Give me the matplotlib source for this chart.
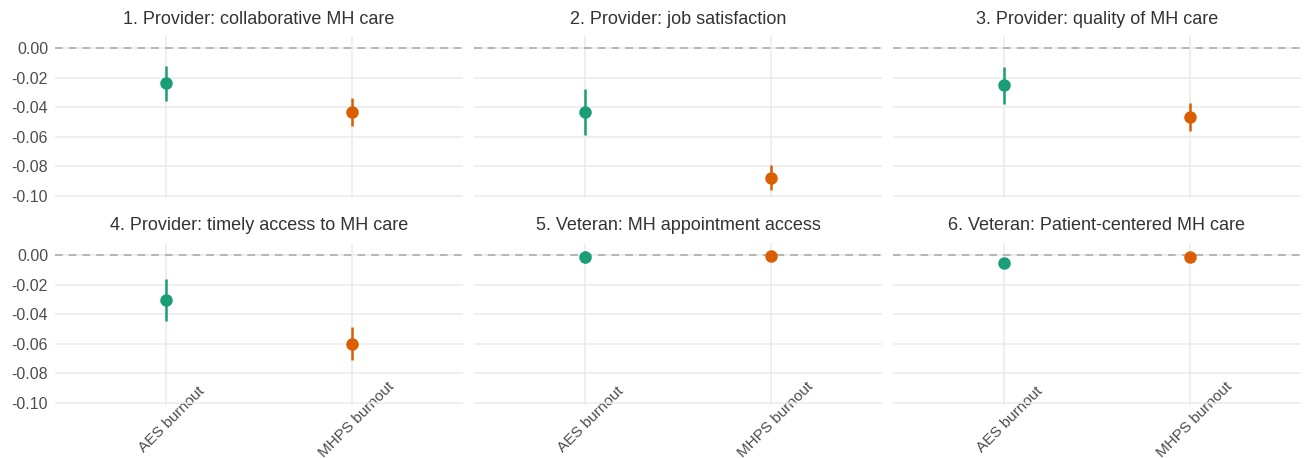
import matplotlib
matplotlib.use("Agg")
import matplotlib.pyplot as plt
import matplotlib.transforms as mtrans
import numpy as np

plt.rcParams['font.family'] = ['Liberation Sans', 'DejaVu Sans']

# === 数据 ===
titles = [
    "1. Provider: collaborative MH care",
    "2. Provider: job satisfaction",
    "3. Provider: quality of MH care",
    "4. Provider: timely access to MH care",
    "5. Veteran: MH appointment access",
    "6. Veteran: Patient-centered MH care",
]
categories = ["AES burnout", "MHPS burnout"]

aes_est = [-0.0236, -0.043, -0.025, -0.0304, -0.0010, -0.0050]
aes_lo = [-0.0360, -0.0590, -0.0378, -0.0446, -0.0050, -0.0058]
aes_hi = [-0.0120, -0.0277, -0.0126, -0.0160, 0.0030, -0.0042]

mhps_est = [-0.0430, -0.0880, -0.0468, -0.0600, -0.0007, -0.0010]
mhps_lo = [-0.0527, -0.0960, -0.0560, -0.0710, -0.0017, -0.0017]
mhps_hi = [-0.0340, -0.0790, -0.0374, -0.0487, 0.0003, -0.0003]

yticks = [0.0, -0.02, -0.04, -0.06, -0.08, -0.10]
colors = ['#1b9e77', '#d95f02']

W, H = 1311, 458
fig = plt.figure(figsize=(W / 100, H / 100), dpi=100)

# 面板位置 (像素)
lefts = [55, 474, 893]
pw = 408
rows = [(36, 197.5), (243, 404.5)]

for i, title in enumerate(titles):
    r, c = divmod(i, 3)
    top, bot = rows[r]
    ax = fig.add_axes([lefts[c] / W, 1 - bot / H, pw / W, (bot - top) / H])
    ax.set_xlim(0.4, 2.6)
    ax.set_ylim(-0.101, 0.0082)
    for s in ax.spines.values():
        s.set_visible(False)
    ax.set_yticks(yticks)
    ax.set_xticks([1, 2])
    ax.grid(True, color='#ebebeb', linewidth=1.1, zorder=0)
    ax.set_axisbelow(True)
    ax.axhline(0, color='#a6a6a6', linestyle=(0, (5, 4)), linewidth=1.1, zorder=1)

    est = [aes_est[i], mhps_est[i]]
    lo = [aes_lo[i], mhps_lo[i]]
    hi = [aes_hi[i], mhps_hi[i]]
    for j in range(2):
        ax.plot([j + 1, j + 1], [lo[j], hi[j]], color=colors[j], linewidth=1.8,
                solid_capstyle='butt', zorder=3)
        ax.plot(j + 1, est[j], 'o', color=colors[j], markersize=8, zorder=4)

    ax.tick_params(length=0, colors='#4d4d4d', labelsize=11.5)
    if c == 0:
        ax.set_yticklabels([f"{v:.2f}" for v in yticks])
        ax.tick_params(axis='y', pad=5)
    else:
        ax.set_yticklabels([])
    if r == 1:
        ax.set_xticklabels(categories, rotation=45, ha='center', va='center', fontsize=11)
        ax.tick_params(axis='x', pad=11)
        offset = mtrans.ScaledTranslation(5 / 100, 0, fig.dpi_scale_trans)
        for lab in ax.get_xticklabels():
            lab.set_transform(lab.get_transform() + offset)
    else:
        ax.set_xticklabels([])
    ax.set_title(title, fontsize=13, color='#333333', pad=9)

fig.savefig("out.png", dpi=100, facecolor='white')
